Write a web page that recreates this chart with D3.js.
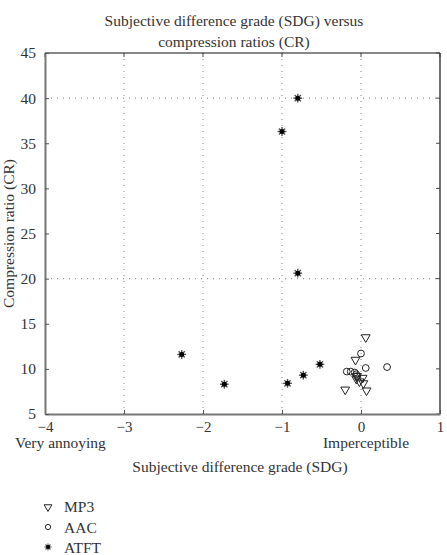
<!DOCTYPE html>
<html>
<head>
<meta charset="utf-8">
<script src="https://cdn.jsdelivr.net/npm/d3@7"></script>
<style>
  body { margin: 0; background: #fff; }
  svg text { font-family: "Liberation Serif", "DejaVu Serif", serif !important; fill: #333; }
</style>
</head>
<body>
<svg id="chart" width="447" height="555" font-family="Liberation Serif"></svg>
<script>
// data: [SDG, CR]
const mp3 = [[0.06, 13.5], [-0.07, 11.0], [-0.05, 9.2], [-0.06, 8.9], [-0.02, 8.6],
             [0.02, 9.0], [0.03, 8.4], [-0.2, 7.7], [0.07, 7.6]]
const aac = [[0.0, 11.7], [0.06, 10.1], [0.33, 10.2], [-0.18, 9.7], [-0.13, 9.7],
             [-0.08, 9.6], [-0.06, 9.4], [-0.05, 9.2]]
const atft = [[-0.8, 40], [-1.0, 36.3], [-0.8, 20.6], [-2.27, 11.6], [-1.73, 8.3],
              [-0.93, 8.4], [-0.73, 9.3], [-0.52, 10.5]]
const xTicks = [-4, -3, -2, -1, 0, 1]
const yTicks = [5, 10, 15, 20, 25, 30, 35, 40, 45]
const xGrid = [-3, -2, -1, 0]
const yGrid = [20, 40]
const legendNames = ["MP3", "AAC", "ATFT"]

const svg = d3.select("#chart")
const margin = {top: 53, left: 45, right: 7, bottom: 141}
const width = 447 - margin.left - margin.right
const height = 555 - margin.top - margin.bottom
const fs = "15.5px"

const x = d3.scaleLinear().domain([-4, 1]).range([0, width])
const y = d3.scaleLinear().domain([5, 45]).range([height, 0])

const g = svg.append("g").attr("transform", "translate(" + margin.left + "," + margin.top + ")")

// dotted grid
g.selectAll(".vgrid").data(xGrid).enter().append("line")
    .attr("x1", d => x(d)).attr("x2", d => x(d))
    .attr("y1", 0).attr("y2", height)
    .style("stroke", "#999").style("stroke-width", 1.2).style("stroke-dasharray", "1,5")
g.selectAll(".hgrid").data(yGrid).enter().append("line")
    .attr("x1", 0).attr("x2", width)
    .attr("y1", d => y(d)).attr("y2", d => y(d))
    .style("stroke", "#999").style("stroke-width", 1.2).style("stroke-dasharray", "1,5")

// frame: top and right black
g.append("line").attr("x1", 0).attr("x2", width).attr("y1", 0).attr("y2", 0)
    .style("stroke", "#111").style("stroke-width", 1.2)
g.append("line").attr("x1", width).attr("x2", width).attr("y1", 0).attr("y2", height)
    .style("stroke", "#111").style("stroke-width", 1.2)

// inward ticks on top and right
g.selectAll(".tt").data(xTicks).enter().append("line")
    .attr("x1", d => x(d)).attr("x2", d => x(d)).attr("y1", 0).attr("y2", 4)
    .style("stroke", "#444")
g.selectAll(".rt").data(yTicks).enter().append("line")
    .attr("x1", width).attr("x2", width - 4).attr("y1", d => y(d)).attr("y2", d => y(d))
    .style("stroke", "#444")

// bottom and left axes (grey)
const xAxis = g.append("g").attr("transform", "translate(0," + height + ")")
    .call(d3.axisBottom(x).tickValues(xTicks).tickSizeInner(-4).tickSizeOuter(0).tickPadding(10)
        .tickFormat(d => String(d).replace("-", "\u2212")))
const yAxis = g.append("g")
    .call(d3.axisLeft(y).tickValues(yTicks).tickSizeInner(-4).tickSizeOuter(0).tickPadding(9))
;[xAxis, yAxis].forEach(a => {
    a.attr("font-family", null).attr("font-size", null)
    a.select(".domain").style("stroke", "#777").style("stroke-width", 2)
    a.selectAll(".tick line").style("stroke", "#555")
    a.selectAll("text").style("font-size", fs).style("fill", "#333")
})
xAxis.selectAll("text").attr("dy", "0.55em").style("font-size", "15px")

// points
const sym = d3.symbol()
g.selectAll(".mp3").data(mp3).enter().append("path")
    .attr("d", sym.type(d3.symbolTriangle).size(34)())
    .attr("transform", d => "translate(" + x(d[0]) + "," + y(d[1]) + ") rotate(180)")
    .style("fill", "none").style("stroke", "#222").style("stroke-width", 1)
g.selectAll(".aac").data(aac).enter().append("circle")
    .attr("cx", d => x(d[0])).attr("cy", d => y(d[1])).attr("r", 3.4)
    .style("fill", "none").style("stroke", "#222").style("stroke-width", 1)

function star(sel) {
    sel.selectAll(".arm").data([0, 45, 90, 135]).enter().append("line")
        .attr("x1", -4.4).attr("x2", 4.4).attr("y1", 0).attr("y2", 0)
        .attr("transform", a => "rotate(" + a + ")")
        .style("stroke", "#555").style("stroke-width", 1.4)
    sel.append("circle").attr("r", 2.5).style("fill", "#000")
}
g.selectAll(".atft").data(atft).enter().append("g")
    .attr("transform", d => "translate(" + x(d[0]) + "," + y(d[1]) + ")")
    .call(star)

// titles
svg.append("text").attr("x", 234).attr("y", 26).attr("text-anchor", "middle")
    .style("font-size", fs).text("Subjective difference grade (SDG) versus")
svg.append("text").attr("x", 234).attr("y", 47).attr("text-anchor", "middle")
    .style("font-size", fs).text("compression ratios (CR)")

svg.append("text").attr("x", 15).attr("y", 448).style("font-size", fs).text("Very annoying")
svg.append("text").attr("x", 366).attr("y", 448).attr("text-anchor", "middle")
    .style("font-size", fs).text("Imperceptible")
svg.append("text").attr("x", 240).attr("y", 472).attr("text-anchor", "middle")
    .style("font-size", fs).text("Subjective difference grade (SDG)")

svg.append("text").attr("transform", "rotate(-90)")
    .attr("x", -(margin.top + height / 2)).attr("y", 14).attr("text-anchor", "middle")
    .style("font-size", fs).text("Compression ratio (CR)")

// legend
const leg = svg.append("g").attr("transform", "translate(48,507)")
leg.append("path").attr("d", d3.symbol().type(d3.symbolTriangle).size(26)())
    .attr("transform", "translate(0,0) rotate(180)")
    .style("fill", "none").style("stroke", "#222")
leg.append("circle").attr("cx", 0).attr("cy", 20).attr("r", 2.6)
    .style("fill", "none").style("stroke", "#222")
leg.append("g").attr("transform", "translate(0,40) scale(0.8)").call(star)
leg.selectAll(".lt").data(legendNames).enter().append("text")
    .attr("x", 16).attr("y", (d, i) => i * 20.5 + 5)
    .style("font-size", fs).text(d => d)
</script>
</body>
</html>
